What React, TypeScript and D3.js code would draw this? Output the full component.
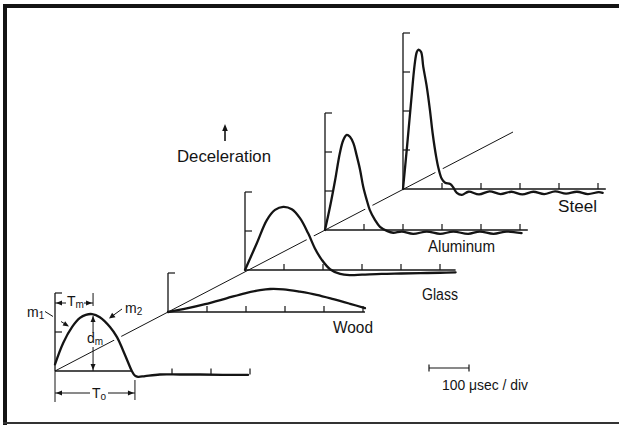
import React, { useEffect, useRef } from 'react'
import * as d3 from 'd3'

// materials along the oblique axis (first one is the annotated sample pulse)
const materials = ['', 'Wood', 'Glass', 'Aluminum', 'Steel']

// traces as [time in divisions, deceleration in divisions]
const samplePulse: [number, number][] = [
  [0, 0.17], [0.21, 0.72], [0.44, 1.13], [0.64, 1.36], [0.79, 1.44], [0.95, 1.46],
  [1.15, 1.38], [1.41, 1.13], [1.59, 0.87], [1.74, 0.54], [1.87, 0.23], [1.97, 0],
  [2.05, -0.12], [2.13, -0.15], [2.31, -0.13], [2.69, -0.09], [3.2, -0.09],
  [3.72, -0.09], [4.3, -0.1], [4.95, -0.1],
]
const woodPulse: [number, number][] = [
  [0, 0], [0.48, 0.09], [0.95, 0.2], [1.5, 0.35], [1.97, 0.48], [2.36, 0.56],
  [2.62, 0.59], [2.96, 0.58], [3.38, 0.52], [3.81, 0.44], [4.24, 0.33],
  [4.67, 0.21], [5.05, 0.1],
]
const glassPulse: [number, number][] = [
  [0, 0], [0.3, 0.68], [0.56, 1.28], [0.77, 1.54], [0.98, 1.62], [1.2, 1.56],
  [1.41, 1.33], [1.62, 0.94], [1.79, 0.56], [1.97, 0.26], [2.18, 0.02],
  [2.44, -0.1], [2.69, -0.13], [3.0, -0.12], [3.5, -0.1], [4.0, -0.09],
  [4.5, -0.08], [5.0, -0.07], [5.4, -0.06],
]
const aluminumPulse: [number, number][] = [
  [0, 0], [0.13, 0.6], [0.26, 1.28], [0.38, 1.97], [0.47, 2.31], [0.56, 2.44],
  [0.64, 2.39], [0.73, 2.22], [0.81, 1.92], [0.9, 1.54], [0.98, 1.11],
  [1.07, 0.77], [1.15, 0.51], [1.28, 0.26], [1.41, 0.08], [1.6, -0.03],
  [1.75, -0.07], [1.97, -0.04], [2.26, -0.1], [2.61, -0.04], [2.95, -0.1],
  [3.29, -0.04], [3.67, -0.1], [3.97, -0.04], [4.32, -0.1], [4.66, -0.04],
  [5.04, -0.08],
]
const steelPulse: [number, number][] = [
  [0, 0], [0.1, 1.05], [0.2, 2.15], [0.3, 3.2], [0.35, 3.5], [0.39, 3.57],
  [0.46, 3.52], [0.52, 3.13], [0.61, 2.62], [0.69, 2.03], [0.76, 1.43],
  [0.85, 0.83], [0.91, 0.53], [0.99, 0.27], [1.08, 0.16], [1.21, 0.13],
  [1.29, 0.04], [1.38, -0.1], [1.51, -0.15], [1.68, -0.07], [1.95, -0.14],
  [2.22, -0.06], [2.5, -0.13], [2.78, -0.07], [3.06, -0.14], [3.34, -0.07],
  [3.62, -0.13], [3.9, -0.06], [4.18, -0.12], [4.46, -0.07], [4.74, -0.13],
  [5.02, -0.08], [5.12, -0.1],
]
const pulses = [samplePulse, woodPulse, glassPulse, aluminumPulse, steelPulse]

// vertical divisions per panel, and time ticks
const yDivisions = [2, 1, 2, 3, 4]
const timeTicks = [[3, 4, 5], [1, 2, 3, 4, 5], [1, 2, 3, 4, 5], [1, 2, 3, 4, 5], [1, 2, 3, 4, 5]]

const W = 619
const H = 425
const DIV = 39
const origins = [[55, 371], [168, 312], [245, 270], [325, 230], [403, 189]]
const axisLength = [1.97, 5.05, 5.4, 5.2, 5.2]
const tickBase = [-0.09, 0, 0, 0, 0]
const labelPos = [null, { x: 333, y: 333, w: 40 }, { x: 422, y: 300, w: 36 }, { x: 428, y: 252, w: 67 }, { x: 558, y: 212, w: 39 }]
const INK = '#141414'
const FONT = '"Liberation Sans", Arial, sans-serif'

const App = () => {
  const ref = useRef<SVGGElement>(null)

  useEffect(() => {
    const g = d3.select(ref.current)
    g.selectAll('*').remove()

    const arrowHead = (tx: number, ty: number, angle: number, len = 6, half = 2.5) => {
      const c = Math.cos(angle), s = Math.sin(angle)
      const bx = tx - c * len, by = ty - s * len
      g.append('path')
        .attr('d', `M${tx},${ty}L${bx - s * half},${by + c * half}L${bx + s * half},${by - c * half}Z`)
        .attr('fill', INK)
    }
    const seg = (x1: number, y1: number, x2: number, y2: number, w = 1) =>
      g.append('line').attr('x1', x1).attr('y1', y1).attr('x2', x2).attr('y2', y2)
        .attr('stroke', INK).attr('stroke-width', w)

    // frame
    g.append('rect').attr('x', 3).attr('y', 4).attr('width', W - 3).attr('height', 4).attr('fill', INK)
    g.append('rect').attr('x', 3).attr('y', 4).attr('width', 4).attr('height', H - 4).attr('fill', INK)
    g.append('rect').attr('x', 3).attr('y', 422).attr('width', W - 3).attr('height', 2).attr('fill', '#333')

    // oblique material axis
    seg(origins[0][0], origins[0][1], 513, 132, 1)

    const scales = materials.map((_, i) => {
      const [ox, oy] = origins[i]
      const x = d3.scaleLinear().domain([0, 1]).range([ox, ox + DIV])
      const y = d3.scaleLinear().domain([0, 1]).range([oy, oy - DIV])
      const line = d3.line<[number, number]>()
        .x(d => x(d[0])).y(d => y(d[1]))
        .curve(d3.curveCatmullRom.alpha(0.5))
      return { x, y, line }
    })

    // white halos so the oblique axis breaks behind the falling edges
    pulses.forEach((data, i) => {
      const peak = d3.maxIndex(data, d => d[1])
      g.append('path').attr('d', scales[i].line(data.slice(peak)))
        .attr('fill', 'none').attr('stroke', '#fff').attr('stroke-width', 8)
    })

    // axes
    materials.forEach((_, i) => {
      const { x, y } = scales[i]
      seg(x(0), y(0), x(0), y(yDivisions[i]), 1.3)
      d3.range(1, yDivisions[i] + 1).forEach(k => seg(x(0), y(k), x(0) + 7, y(k), 1.2))
      seg(x(0), y(0), x(axisLength[i]), y(0), 1.3)
      timeTicks[i].forEach(k => seg(x(k), y(tickBase[i]), x(k), y(tickBase[i]) - 6, 1.2))
    })

    // traces
    pulses.forEach((data, i) => {
      g.append('path').attr('d', scales[i].line(data))
        .attr('fill', 'none').attr('stroke', INK).attr('stroke-width', 2.3)
        .attr('stroke-linejoin', 'round').attr('stroke-linecap', 'round')
    })

    // material labels
    materials.forEach((name, i) => {
      const p = labelPos[i]
      if (!p) return
      g.append('text').attr('x', p.x).attr('y', p.y).text(name)
        .attr('font-size', 16).attr('textLength', p.w).attr('lengthAdjust', 'spacingAndGlyphs')
    })

    // annotations of the sample pulse
    const s = scales[0]
    const peak = samplePulse[d3.maxIndex(samplePulse, d => d[1])]
    const px = s.x(peak[0]) + 1
    const py = s.y(peak[1])
    const x0 = s.x(0)
    const y0 = s.y(0)
    const t0x = s.x(2.05)

    // Tm
    seg(px, 293, px, 306, 1)
    seg(x0, 303, 66, 303, 1)
    seg(84, 303, px, 303, 1)
    arrowHead(x0 + 1, 303, Math.PI, 6, 2.5)
    arrowHead(px - 1, 303, 0, 6, 2.5)
    const tm = g.append('text').attr('x', 67).attr('y', 306).attr('font-size', 14)
    tm.append('tspan').text('T')
    tm.append('tspan').attr('dy', 2).attr('font-size', 10).text('m')

    // dm
    seg(px, py + 2, px, 333, 1)
    seg(px, 347, px, y0, 1)
    arrowHead(px, py + 2, -Math.PI / 2, 6, 2.5)
    arrowHead(px, y0 - 1, Math.PI / 2, 6, 2.5)
    const dm = g.append('text').attr('x', 87).attr('y', 343).attr('font-size', 14)
    dm.append('tspan').text('d')
    dm.append('tspan').attr('dy', 2).attr('font-size', 10).text('m')

    // T0
    seg(x0, y0, x0, 402, 1)
    seg(t0x, 380, t0x, 400, 1)
    seg(x0, 393, 90, 393, 1)
    seg(108, 393, t0x, 393, 1)
    arrowHead(x0 + 1, 393, Math.PI, 6, 2.5)
    arrowHead(t0x - 1, 393, 0, 6, 2.5)
    const t0 = g.append('text').attr('x', 92).attr('y', 398).attr('font-size', 14)
    t0.append('tspan').text('T')
    t0.append('tspan').attr('dy', 2).attr('font-size', 10).text('o')

    // m1 leader
    const m1 = g.append('text').attr('x', 27).attr('y', 317).attr('font-size', 14)
    m1.append('tspan').text('m')
    m1.append('tspan').attr('dy', 2).attr('font-size', 10).text('1')
    seg(45, 311.5, 53, 316.5, 1)
    seg(61, 321.5, 66, 324.6, 1)
    arrowHead(69, 326.5, Math.atan2(14, 23), 6, 2.5)

    // m2 leader
    const m2 = g.append('text').attr('x', 125).attr('y', 313).attr('font-size', 14)
    m2.append('tspan').text('m')
    m2.append('tspan').attr('dy', 2).attr('font-size', 10).text('2')
    seg(122, 309, 113, 315.5, 1)
    arrowHead(109, 318.5, Math.atan2(9, -12), 6, 2.8)

    // Deceleration arrow and label
    seg(225, 141, 225, 128, 1.6)
    arrowHead(225, 124, -Math.PI / 2, 7, 2.8)
    g.append('text').attr('x', 177).attr('y', 162).text('Deceleration')
      .attr('font-size', 17).attr('textLength', 94).attr('lengthAdjust', 'spacingAndGlyphs')

    // time scale bar
    seg(429, 368, 429 + DIV + 1, 368, 1.2)
    seg(429, 364.5, 429, 371.5, 1.2)
    seg(429 + DIV + 1, 364.5, 429 + DIV + 1, 371.5, 1.2)
    g.append('text').attr('x', 442).attr('y', 390).text('100 \u03bcsec / div')
      .attr('font-size', 14).attr('textLength', 86).attr('lengthAdjust', 'spacingAndGlyphs')
  }, [])

  return (
    <svg width={W} height={H}
      style={{ position: 'absolute', left: 0, top: 0, background: '#fff', fontFamily: FONT }}
      fill={INK}>
      <g ref={ref} />
    </svg>
  )
}

export default App
